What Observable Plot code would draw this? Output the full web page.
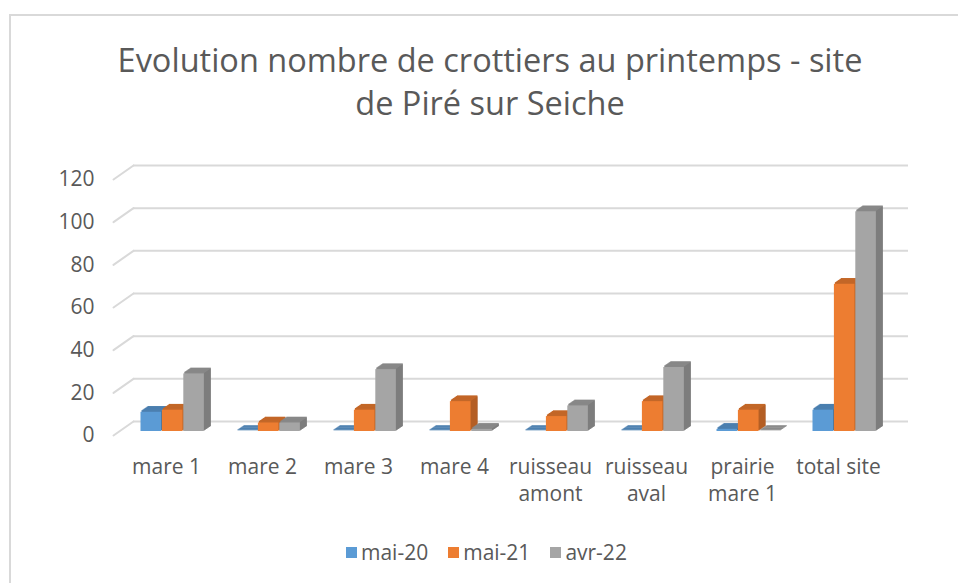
<!DOCTYPE html>
<html><head><meta charset="utf-8">
<script src="https://cdn.jsdelivr.net/npm/d3@7"></script>
<script src="https://cdn.jsdelivr.net/npm/@observablehq/plot@0.6"></script>
<style>
html,body{margin:0;padding:0;background:#fff;}
#wrap{position:relative;width:958px;height:583px;overflow:hidden;font-family:"Open Sans",sans-serif;color:#595959;background:#fff;}
#border{position:absolute;left:9px;top:14px;width:1000px;height:1000px;border-left:2px solid #d9d9d9;border-top:2px solid #d9d9d9;}
#title{position:absolute;left:9px;width:962px;top:38px;text-align:center;font-size:32.5px;line-height:43px;color:#595959;}
#chart{position:absolute;left:0;top:0;}
#legend{position:absolute;left:346px;top:540px;display:flex;font-size:21px;line-height:24px;color:#595959;}
.item{display:flex;align-items:center;margin-right:20px;}
.sw{display:inline-block;width:11px;height:11px;margin-right:4px;}
</style></head>
<body><div id="wrap"><div id="border"></div><div id="title">Evolution nombre de crottiers au printemps - site<br>de Piré sur Seiche</div><div id="chart"></div><div id="legend"></div></div>
<script>
const categories = ["mare 1","mare 2","mare 3","mare 4","ruisseau amont","ruisseau aval","prairie mare 1","total site"];
const categoryLabels = ["mare 1","mare 2","mare 3","mare 4","ruisseau\namont","ruisseau\naval","prairie\nmare 1","total site"];
const seriesNames = ["mai-20","mai-21","avr-22"];
const mai20 = [9,0,0,0,0,0,1,10];
const mai21 = [10,4,10,14,7,14,10,69];
const avr22 = [27,4,29,1,12,30,0,103];
const seriesValues = [mai20, mai21, avr22];
const yTicks = [0,20,40,60,80,100,120];
const colors = ["#5B9BD5","#ED7D31","#A5A5A5"];

// layout
const W = 958, H = 583, mL = 113, mR = 70, mT = 165, mB = 162;
const bw = (W - mL - mR) / categories.length;
const barStart = 23.5, barW = 21.4;
const depth = 7, slope = 0.68, frontDy = 10;
const gridColor = "#d9d9d9", textColor = "#595959";

const marks = [];
marks.push(Plot.ruleY(yTicks, {y: d => d, dx: 20, stroke: gridColor, strokeWidth: 2}));
marks.push(Plot.vector(yTicks, {y: d => d, frameAnchor: "left", dy: 14, length: 24.4, rotate: 55, anchor: "start", r: 0, stroke: gridColor, strokeWidth: 2}));
marks.push(Plot.text(yTicks, {y: d => d, text: d => String(d), frameAnchor: "left", dx: -19, dy: 14, textAnchor: "end", fontSize: 21, fill: textColor}));

seriesNames.forEach((s, i) => {
  const data = categories.map((c, j) => ({c, s, v: seriesValues[i][j]}));
  const inL = barStart + i * barW, inR = bw - barStart - (i + 1) * barW;
  const base = {x: "c", y: "v", insetLeft: inL, insetRight: inR};
  const top = d3.color(colors[i]).darker(0.55).formatHex();
  const side = d3.color(colors[i]).darker(1.1).formatHex();
  for (let k = depth; k >= 1; k--) marks.push(Plot.barY(data, {...base, fill: top, dx: k, dy: frontDy - k * slope, insetTop: -1}));
  for (let k = 1; k <= depth; k++) marks.push(Plot.barY(data, {...base, insetLeft: inL + barW - 1.3, fill: side, dx: k, dy: frontDy - k * slope}));
  marks.push(Plot.barY(data, {...base, fill: colors[i], dy: frontDy}));
});

marks.push(Plot.text(categories, {x: d => d, text: (d, i) => categoryLabels[i], frameAnchor: "bottom", lineAnchor: "top", dy: 33, dx: 1, fontSize: 21, lineHeight: 1.3, fill: textColor}));

const chart = Plot.plot({
  width: W, height: H,
  marginLeft: mL, marginRight: mR, marginTop: mT, marginBottom: mB,
  style: "font-family:'Open Sans',sans-serif;background:transparent;overflow:visible;",
  x: {domain: categories, padding: 0, axis: null},
  y: {domain: [0, 120], axis: null},
  marks
});
document.getElementById("chart").append(chart);

const legend = document.getElementById("legend");
seriesNames.forEach((s, i) => {
  const item = document.createElement("div");
  item.className = "item";
  const sw = document.createElement("span");
  sw.className = "sw"; sw.style.background = colors[i];
  const t = document.createElement("span");
  t.textContent = s;
  item.append(sw, t);
  legend.append(item);
});
</script>
</body></html>
